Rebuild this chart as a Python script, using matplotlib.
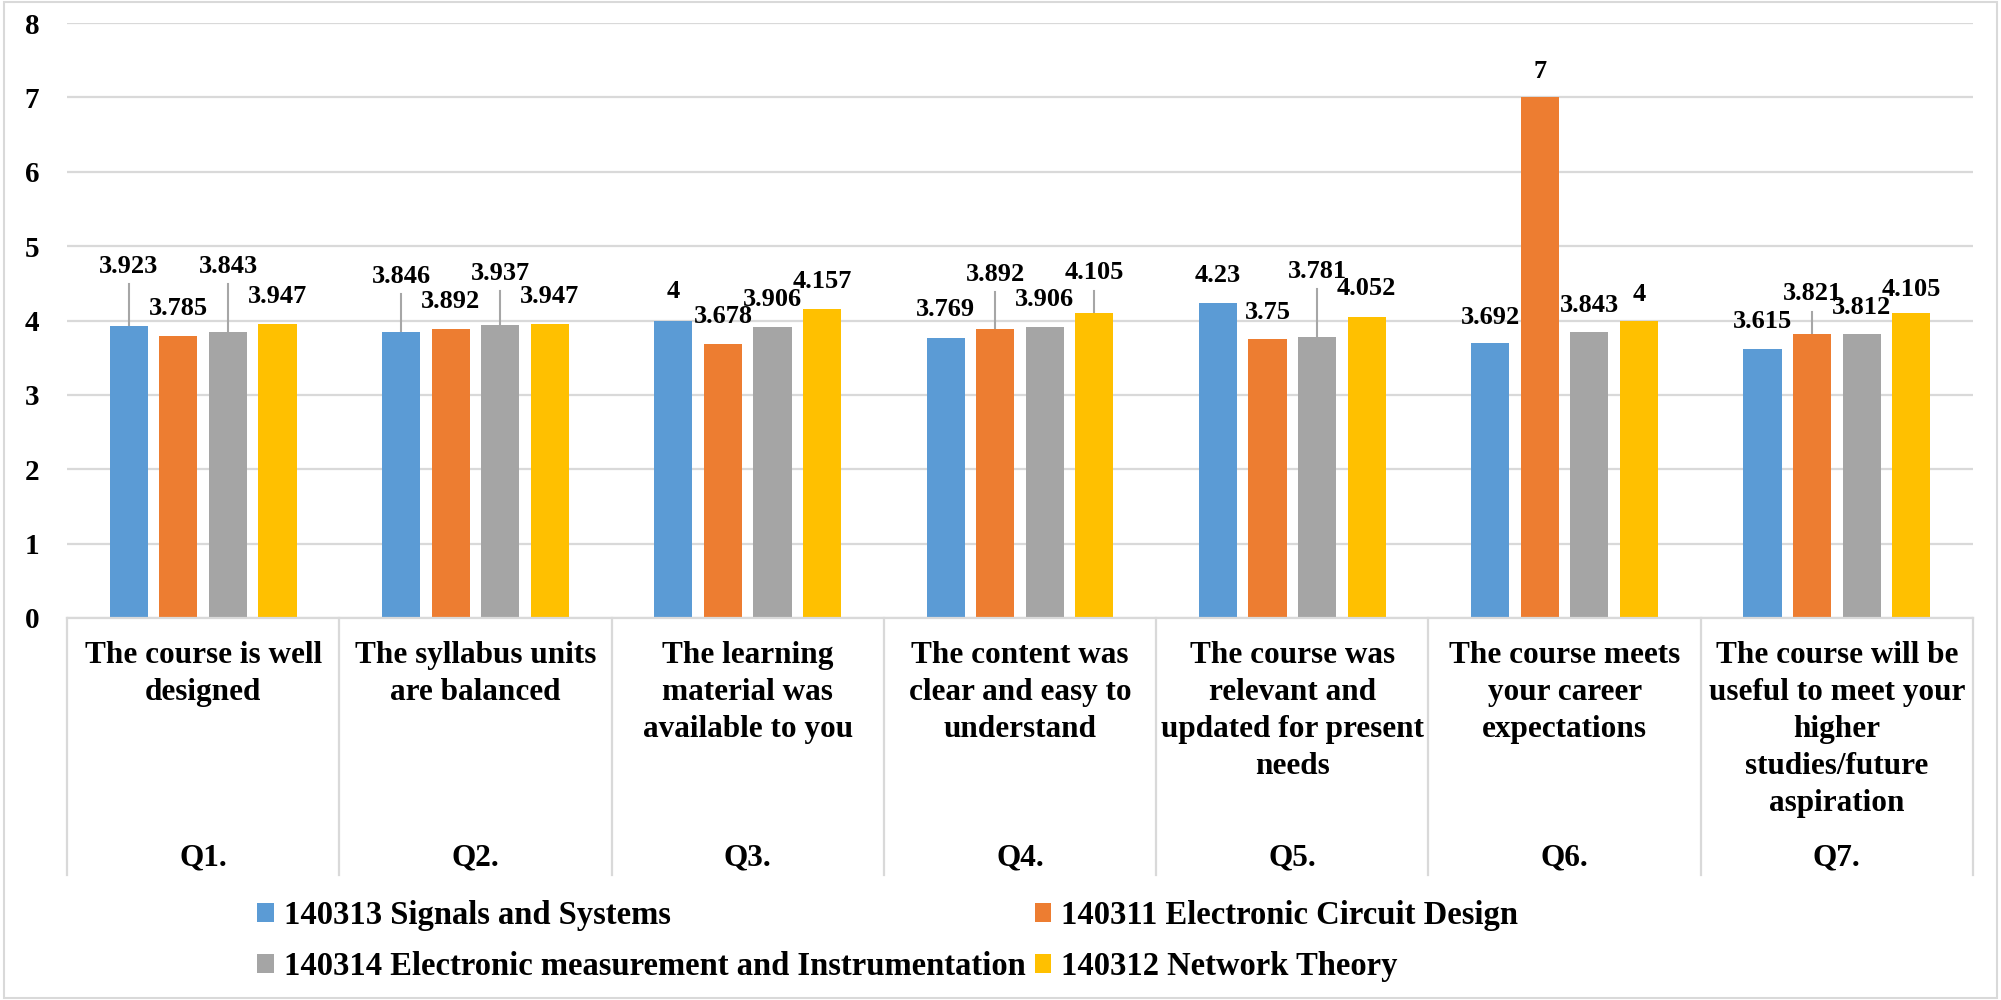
import numpy as np
import matplotlib
matplotlib.use("Agg")
import matplotlib.pyplot as plt
import matplotlib.transforms as mtrans
from matplotlib.patches import Rectangle, Patch

plt.rcParams["font.family"] = ["Liberation Serif", "DejaVu Serif"]
plt.rcParams["font.weight"] = "bold"

questions = ["Q1.", "Q2.", "Q3.", "Q4.", "Q5.", "Q6.", "Q7."]
statements = [
    "The course is well\ndesigned",
    "The syllabus units\nare balanced",
    "The learning\nmaterial was\navailable to you",
    "The content was\nclear and easy to\nunderstand",
    "The course was\nrelevant and\nupdated for present\nneeds",
    "The course meets\nyour career\nexpectations",
    "The course will be\nuseful to meet your\nhigher\nstudies/future\naspiration",
]
series_names = [
    "140313 Signals and Systems",
    "140311 Electronic Circuit Design",
    "140314 Electronic measurement and Instrumentation",
    "140312 Network Theory",
]
signals = [3.923, 3.846, 4, 3.769, 4.23, 3.692, 3.615]
circuit = [3.785, 3.892, 3.678, 3.892, 3.75, 7, 3.821]
measure = [3.843, 3.937, 3.906, 3.906, 3.781, 3.843, 3.812]
network = [3.947, 3.947, 4.157, 4.105, 4.052, 4, 4.105]
y_ticks = [0, 1, 2, 3, 4, 5, 6, 7, 8]

# where excel put each data label (centre height, value units) and leader lines
label_y = [
    [4.73, 4.59, 4.39, 4.15, 4.60, 4.04, 3.98],
    [4.16, 4.26, 4.06, 4.62, 4.11, 7.35, 4.36],
    [4.73, 4.63, 4.28, 4.28, 4.66, 4.20, 4.17],
    [4.32, 4.32, 4.53, 4.64, 4.43, 4.35, 4.42],
]
leaders = {(0, 0), (2, 0), (0, 1), (2, 1), (1, 3), (3, 3), (2, 4), (1, 6)}

colors = ["#5B9BD5", "#ED7D31", "#A5A5A5", "#FFC000"]
values = [signals, circuit, measure, network]

fig = plt.figure(figsize=(20.01, 10.0), dpi=100)
ax = fig.add_axes([0.0335, 0.382, 0.9525, 0.595])

x = np.arange(len(questions))
step, width = 0.182, 0.14
for k, (vals, col) in enumerate(zip(values, colors)):
    xs = x + (k - 1.5) * step
    ax.bar(xs, vals, width=width, color=col, zorder=3)
    for i, v in enumerate(vals):
        txt = f"{v:g}"
        ly = label_y[k][i]
        if (k, i) in leaders:
            ax.plot([xs[i], xs[i]], [v, ly - 0.24], color="#A6A6A6", lw=1.5, zorder=2)
        ax.text(xs[i], ly, txt, ha="center", va="center", fontsize=19,
                fontweight="bold", zorder=4)

ax.set_xlim(-0.5, len(questions) - 0.5)
ax.set_ylim(0, 8)
ax.set_yticks(y_ticks)
ax.set_yticklabels([str(t) for t in y_ticks], fontsize=21, fontweight="bold")
ax.tick_params(axis="y", length=0, pad=20)
ax.set_xticks([])
ax.grid(axis="y", color="#D9D9D9", lw=1.6, zorder=0)
for s in ["top", "right", "left"]:
    ax.spines[s].set_visible(False)
ax.spines["bottom"].set_color("#D9D9D9")
ax.spines["bottom"].set_linewidth(1.6)
ax.spines["bottom"].set_zorder(5)

# multi-level category table under the axis
bt = mtrans.blended_transform_factory(ax.transData, ax.transAxes)
for b in np.arange(len(questions) + 1) - 0.5:
    ax.plot([b, b], [0, -0.432], transform=bt, color="#D9D9D9", lw=1.6, clip_on=False)
for i in range(len(questions)):
    ax.text(x[i], -0.039, statements[i], transform=bt, ha="center", va="top",
            fontsize=22.5, fontweight="bold", linespacing=1.36)
    ax.text(x[i], -0.403, questions[i], transform=bt, ha="center", va="center",
            fontsize=22.5, fontweight="bold")

handles = [Patch(facecolor=c, edgecolor="none") for c in colors]
order = [0, 2, 1, 3]
fig.legend([handles[o] for o in order], [series_names[o] for o in order],
           ncol=2, loc="center left", bbox_to_anchor=(0.114, 0.059), frameon=False,
           prop={"size": 23.5, "weight": "bold"}, handlelength=0.5, handleheight=0.5,
           handletextpad=0.3, columnspacing=0.3, labelspacing=0.62)

fig.patches.append(Rectangle((0.002, 0.002), 0.996, 0.996, transform=fig.transFigure,
                             fill=False, edgecolor="#D9D9D9", lw=1.5))

plt.savefig("out.png", dpi=100)
plt.close()
